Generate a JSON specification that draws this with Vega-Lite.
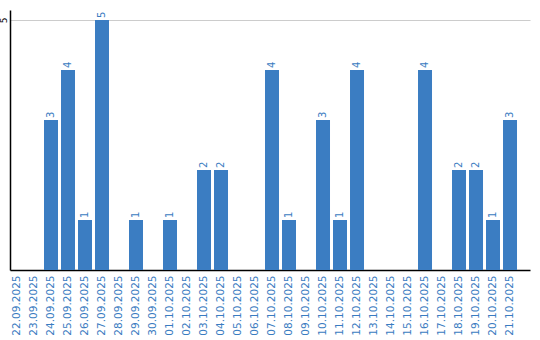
{
  "$schema": "https://vega.github.io/schema/vega-lite/v6.json",
  "autosize": "none",
  "width": 520,
  "height": 260,
  "padding": {"left": 10, "top": 10, "right": 10, "bottom": 70},
  "background": "white",
  "config": {"view": {"stroke": null}, "font": "DejaVu Sans"},
  "data": {"values": [
    {"date": "22.09.2025", "value": 0},
    {"date": "23.09.2025", "value": 0},
    {"date": "24.09.2025", "value": 3},
    {"date": "25.09.2025", "value": 4},
    {"date": "26.09.2025", "value": 1},
    {"date": "27.09.2025", "value": 5},
    {"date": "28.09.2025", "value": 0},
    {"date": "29.09.2025", "value": 1},
    {"date": "30.09.2025", "value": 0},
    {"date": "01.10.2025", "value": 1},
    {"date": "02.10.2025", "value": 0},
    {"date": "03.10.2025", "value": 2},
    {"date": "04.10.2025", "value": 2},
    {"date": "05.10.2025", "value": 0},
    {"date": "06.10.2025", "value": 0},
    {"date": "07.10.2025", "value": 4},
    {"date": "08.10.2025", "value": 1},
    {"date": "09.10.2025", "value": 0},
    {"date": "10.10.2025", "value": 3},
    {"date": "11.10.2025", "value": 1},
    {"date": "12.10.2025", "value": 4},
    {"date": "13.10.2025", "value": 0},
    {"date": "14.10.2025", "value": 0},
    {"date": "15.10.2025", "value": 0},
    {"date": "16.10.2025", "value": 4},
    {"date": "17.10.2025", "value": 0},
    {"date": "18.10.2025", "value": 2},
    {"date": "19.10.2025", "value": 2},
    {"date": "20.10.2025", "value": 1},
    {"date": "21.10.2025", "value": 3}
  ]},
  "encoding": {
    "x": {
      "field": "date", "type": "ordinal", "sort": null,
      "scale": {"paddingInner": 0.1765, "paddingOuter": 0.382, "align": 0},
      "axis": {
        "title": null, "labelAngle": -90, "labelAlign": "right", "labelBaseline": "middle",
        "labelColor": "#3a7cc1", "labelFontSize": 10.5, "labelPadding": 5,
        "ticks": false, "domainColor": "#000000", "domainWidth": 1.5
      }
    },
    "y": {
      "field": "value", "type": "quantitative",
      "scale": {"domain": [0, 5.2], "nice": false},
      "axis": {
        "title": null, "values": [5], "labelAngle": -90, "labelAlign": "center", "labelBaseline": "bottom",
        "labelFontSize": 9, "labelColor": "#000000", "labelPadding": 2,
        "ticks": false, "domainColor": "#000000", "domainWidth": 1.5,
        "grid": true, "gridColor": "#cccccc", "gridWidth": 1.2
      }
    }
  },
  "layer": [
    {"mark": {"type": "bar", "color": "#3b7dc2"}},
    {
      "transform": [{"filter": "datum.value > 0"}],
      "mark": {"type": "text", "angle": -90, "align": "left", "baseline": "middle", "dx": 2, "color": "#3a7cc1", "fontSize": 10},
      "encoding": {"text": {"field": "value", "type": "quantitative"}}
    }
  ]
}
